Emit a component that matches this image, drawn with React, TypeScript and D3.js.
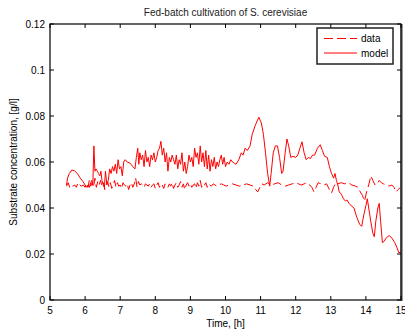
import * as d3 from "d3";

// [time h, substrate g/l]
const dataSeries: [number, number][] = [
  [5.47, 0.0495], [5.52, 0.051], [5.56, 0.049], [5.6, 0.05], [5.65, 0.0495], [5.7, 0.05],
  [5.75, 0.049], [5.8, 0.051], [5.85, 0.05], [5.9, 0.0495], [5.95, 0.05], [6.0, 0.049],
  [6.04, 0.0505], [6.08, 0.049], [6.12, 0.052], [6.16, 0.0495], [6.2, 0.051], [6.24, 0.049],
  [6.28, 0.053], [6.32, 0.049], [6.36, 0.0515], [6.4, 0.05], [6.44, 0.052], [6.48, 0.0495],
  [6.52, 0.051], [6.56, 0.048], [6.6, 0.05], [6.64, 0.0515], [6.68, 0.049], [6.72, 0.051],
  [6.76, 0.0485], [6.8, 0.05], [6.84, 0.052], [6.88, 0.049], [6.92, 0.051], [6.96, 0.0495],
  [7.0, 0.05], [7.04, 0.0485], [7.08, 0.051], [7.12, 0.05], [7.16, 0.0495], [7.2, 0.0505],
  [7.24, 0.048], [7.28, 0.05], [7.32, 0.051], [7.36, 0.049], [7.4, 0.0505], [7.44, 0.053],
  [7.48, 0.049], [7.52, 0.0515], [7.56, 0.05], [7.6, 0.0505], [7.64, 0.05], [7.68, 0.049],
  [7.72, 0.0505], [7.76, 0.05], [7.8, 0.0495], [7.84, 0.0505], [7.88, 0.049], [7.92, 0.05],
  [7.96, 0.0505], [8.0, 0.0485], [8.04, 0.05], [8.08, 0.051], [8.12, 0.049], [8.16, 0.0505],
  [8.2, 0.05], [8.24, 0.0485], [8.28, 0.0505], [8.32, 0.05], [8.36, 0.049], [8.4, 0.0505],
  [8.44, 0.0495], [8.48, 0.051], [8.52, 0.0485], [8.56, 0.05], [8.6, 0.051], [8.64, 0.049],
  [8.68, 0.05], [8.72, 0.0515], [8.76, 0.049], [8.8, 0.0505], [8.84, 0.048], [8.88, 0.05],
  [8.92, 0.051], [8.96, 0.0495], [9.0, 0.0505], [9.04, 0.049], [9.08, 0.05], [9.12, 0.0505],
  [9.16, 0.0485], [9.2, 0.051], [9.24, 0.0495], [9.28, 0.052], [9.32, 0.049], [9.36, 0.0505],
  [9.4, 0.05], [9.44, 0.051], [9.48, 0.049], [9.52, 0.0505], [9.56, 0.05], [9.6, 0.0495],
  [9.65, 0.0505], [9.7, 0.05], [9.75, 0.0495], [9.8, 0.05], [9.88, 0.0505], [9.95, 0.05],
  [10.02, 0.0495], [10.1, 0.05], [10.2, 0.0505], [10.3, 0.05], [10.4, 0.0495], [10.5, 0.05],
  [10.6, 0.0505], [10.7, 0.05], [10.8, 0.0495], [10.86, 0.048], [10.92, 0.047], [10.98, 0.049],
  [11.04, 0.0505], [11.1, 0.05], [11.2, 0.051], [11.3, 0.05], [11.4, 0.0505], [11.5, 0.051],
  [11.6, 0.05], [11.7, 0.0495], [11.8, 0.05], [11.9, 0.0505], [12.0, 0.051], [12.08, 0.0505],
  [12.16, 0.05], [12.24, 0.0505], [12.32, 0.051], [12.4, 0.05], [12.46, 0.049], [12.52, 0.047],
  [12.58, 0.049], [12.64, 0.051], [12.72, 0.0505], [12.8, 0.05], [12.88, 0.0505], [12.96, 0.048],
  [13.02, 0.0465], [13.08, 0.049], [13.14, 0.051], [13.2, 0.0505], [13.3, 0.051], [13.4, 0.0505],
  [13.5, 0.051], [13.6, 0.05], [13.7, 0.0495], [13.78, 0.049], [13.84, 0.047], [13.9, 0.0455],
  [13.96, 0.043], [14.02, 0.047], [14.08, 0.05], [14.14, 0.054], [14.2, 0.052], [14.26, 0.05],
  [14.32, 0.0505], [14.38, 0.052], [14.44, 0.051], [14.5, 0.0505], [14.58, 0.05], [14.66, 0.0495],
  [14.74, 0.05], [14.8, 0.049], [14.86, 0.047], [14.92, 0.048], [14.98, 0.049],
];

const modelSeries: [number, number][] = [
  [5.47, 0.05], [5.5, 0.053], [5.55, 0.055], [5.62, 0.0565], [5.7, 0.0562], [5.78, 0.055],
  [5.86, 0.053], [5.94, 0.0515], [6.0, 0.05], [6.05, 0.049], [6.08, 0.05], [6.12, 0.049],
  [6.16, 0.051], [6.19, 0.052], [6.22, 0.05], [6.25, 0.067], [6.28, 0.056], [6.31, 0.057],
  [6.35, 0.056], [6.38, 0.055], [6.42, 0.054], [6.45, 0.056], [6.48, 0.052], [6.52, 0.05],
  [6.55, 0.049], [6.58, 0.056], [6.62, 0.05], [6.66, 0.052], [6.7, 0.057], [6.74, 0.055],
  [6.78, 0.058], [6.82, 0.056], [6.86, 0.059], [6.9, 0.055], [6.94, 0.061], [6.98, 0.057],
  [7.02, 0.058], [7.06, 0.054], [7.1, 0.06], [7.14, 0.061], [7.2, 0.06], [7.28, 0.0595],
  [7.36, 0.058], [7.42, 0.057], [7.46, 0.062], [7.5, 0.066], [7.53, 0.059], [7.56, 0.064],
  [7.6, 0.061], [7.64, 0.063], [7.68, 0.058], [7.72, 0.065], [7.76, 0.06], [7.8, 0.062],
  [7.84, 0.058], [7.88, 0.063], [7.92, 0.061], [7.96, 0.064], [8.0, 0.06], [8.04, 0.062],
  [8.08, 0.065], [8.12, 0.066], [8.16, 0.069], [8.2, 0.063], [8.24, 0.066], [8.28, 0.06],
  [8.32, 0.064], [8.36, 0.056], [8.4, 0.062], [8.44, 0.06], [8.48, 0.063], [8.52, 0.061],
  [8.56, 0.059], [8.6, 0.063], [8.64, 0.057], [8.68, 0.061], [8.72, 0.059], [8.76, 0.064],
  [8.8, 0.056], [8.84, 0.06], [8.88, 0.055], [8.92, 0.058], [8.96, 0.063], [9.0, 0.06],
  [9.04, 0.062], [9.08, 0.058], [9.12, 0.066], [9.16, 0.062], [9.2, 0.064], [9.24, 0.059],
  [9.28, 0.067], [9.32, 0.06], [9.36, 0.064], [9.4, 0.058], [9.44, 0.065], [9.48, 0.057],
  [9.52, 0.063], [9.56, 0.056], [9.6, 0.061], [9.64, 0.058], [9.68, 0.062], [9.72, 0.057],
  [9.76, 0.06], [9.8, 0.058], [9.84, 0.061], [9.88, 0.063], [9.92, 0.059], [9.96, 0.062],
  [10.0, 0.058], [10.05, 0.06], [10.1, 0.059], [10.15, 0.061], [10.2, 0.06], [10.25, 0.0595],
  [10.3, 0.059], [10.38, 0.061], [10.45, 0.064], [10.5, 0.063], [10.56, 0.066], [10.62, 0.065],
  [10.7, 0.067], [10.76, 0.072], [10.85, 0.076], [10.95, 0.0795], [11.02, 0.077], [11.08, 0.072],
  [11.14, 0.064], [11.2, 0.055], [11.26, 0.0495], [11.3, 0.055], [11.36, 0.064], [11.42, 0.067],
  [11.48, 0.067], [11.54, 0.062], [11.6, 0.055], [11.64, 0.056], [11.7, 0.064], [11.75, 0.07],
  [11.8, 0.067], [11.86, 0.062], [11.92, 0.0625], [12.0, 0.062], [12.06, 0.063], [12.12, 0.066],
  [12.18, 0.0688], [12.24, 0.064], [12.3, 0.061], [12.36, 0.062], [12.42, 0.0615], [12.48, 0.063],
  [12.54, 0.063], [12.62, 0.066], [12.7, 0.0675], [12.76, 0.065], [12.82, 0.0625], [12.9, 0.062],
  [12.96, 0.058], [13.02, 0.055], [13.08, 0.053], [13.12, 0.055], [13.16, 0.052], [13.2, 0.05],
  [13.24, 0.047], [13.3, 0.046], [13.36, 0.044], [13.42, 0.043], [13.46, 0.0435], [13.52, 0.042],
  [13.58, 0.041], [13.66, 0.04], [13.74, 0.036], [13.82, 0.033], [13.88, 0.032], [13.94, 0.037],
  [14.0, 0.041], [14.04, 0.044], [14.08, 0.04], [14.14, 0.034], [14.2, 0.029], [14.24, 0.0275],
  [14.28, 0.034], [14.34, 0.04], [14.38, 0.042], [14.42, 0.034], [14.47, 0.025], [14.52, 0.0255],
  [14.58, 0.027], [14.66, 0.028], [14.74, 0.027], [14.82, 0.025], [14.88, 0.023], [14.94, 0.0205],
  [15.0, 0.021],
];

const xTicks = [5, 6, 7, 8, 9, 10, 11, 12, 13, 14, 15];
const yTicks = [0, 0.02, 0.04, 0.06, 0.08, 0.1, 0.12];
const legendItems = ["data", "model"];

const W = 405;
const H = 333;
const left = 50;
const right = 401;
const top = 24;
const bottom = 300;
const font = "'Liberation Sans', Arial, sans-serif";

export default function App() {
  const x = d3.scaleLinear().domain([5, 15]).range([left, right]);
  const y = d3.scaleLinear().domain([0, 0.12]).range([bottom, top]);
  const line = d3
    .line<[number, number]>()
    .x((d) => x(d[0]))
    .y((d) => y(d[1]));

  const tickLen = 4;
  const fmt = (v: number) => (v === 0 ? "0" : String(+v.toFixed(2)));

  return (
    <svg
      width={W}
      height={H}
      style={{ position: "absolute", left: 0, top: 0, background: "#fff" }}
      fontFamily={font}
    >
      <rect x={0} y={0} width={W} height={H} fill="#fff" />
      <text x={(left + right) / 2} y={16} fontSize={10} textAnchor="middle" fill="#222">
        Fed-batch cultivation of S. cerevisiae
      </text>

      <path d={line(dataSeries) ?? ""} fill="none" stroke="#ff0000" strokeWidth={1} strokeDasharray="9,4" />
      <path d={line(modelSeries) ?? ""} fill="none" stroke="#ff0000" strokeWidth={1} />

      {/* axes box */}
      <rect x={left} y={top} width={right - left} height={bottom - top} fill="none" stroke="#000" strokeWidth={1.2} />
      <line x1={right + 0.5} x2={right + 0.5} y1={top} y2={bottom + 1} stroke="#333" strokeWidth={2} />

      {xTicks.map((t) => (
        <g key={t}>
          <line x1={x(t)} x2={x(t)} y1={bottom} y2={bottom - tickLen} stroke="#000" />
          <line x1={x(t)} x2={x(t)} y1={top} y2={top + tickLen} stroke="#000" />
          <text x={x(t)} y={313.5} fontSize={10} textAnchor="middle" fill="#000">
            {t}
          </text>
        </g>
      ))}
      {yTicks.map((v) => (
        <g key={v}>
          <line x1={left} x2={left + tickLen} y1={y(v)} y2={y(v)} stroke="#000" />
          <line x1={right} x2={right - tickLen} y1={y(v)} y2={y(v)} stroke="#000" />
          <text x={45} y={y(v) + 3.5} fontSize={10} textAnchor="end" fill="#000">
            {fmt(v)}
          </text>
        </g>
      ))}

      <text x={(left + right) / 2} y={327} fontSize={10} textAnchor="middle" fill="#000">
        Time, [h]
      </text>
      <text
        transform={`translate(17, ${(top + bottom) / 2}) rotate(-90)`}
        fontSize={10}
        textAnchor="middle"
        fill="#000"
      >
        Substrate concentration, [g/l]
      </text>

      {/* legend */}
      <rect x={317} y={28} width={76} height={36} fill="#fff" stroke="#222" strokeWidth={1.5} />
      {legendItems.map((name, i) => (
        <g key={name}>
          <line
            x1={324}
            x2={357}
            y1={38.5 + i * 14.5}
            y2={38.5 + i * 14.5}
            stroke="#ff0000"
            strokeWidth={1}
            strokeDasharray={i === 0 ? "9,4" : undefined}
          />
          <text x={361} y={42 + i * 14.5} fontSize={10} fill="#000">
            {name}
          </text>
        </g>
      ))}
    </svg>
  );
}
